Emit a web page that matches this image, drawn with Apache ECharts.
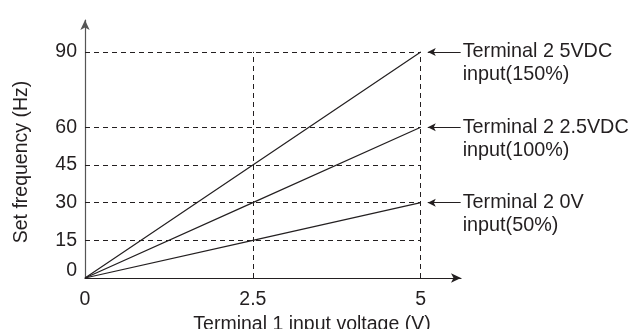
<!DOCTYPE html>
<html>
<head>
<meta charset="utf-8">
<script src="https://cdn.jsdelivr.net/npm/echarts@6/dist/echarts.min.js"></script>
<style>
  html, body { margin: 0; padding: 0; background: #fff; }
  #chart { width: 631px; height: 329px; }
</style>
</head>
<body>
<div id="chart"></div>
<script>
// 输入电压 (V) 与各曲线的设定频率 (Hz)
const voltages = [0, 2.5, 5];
const freq150 = [0, 45, 90];
const freq100 = [0, 30, 60];
const freq50 = [0, 15, 30];

// 刻度
const xTicks = [0, 2.5, 5];
const yTicks = [0, 15, 30, 45, 60, 90];

// 虚线参考线
const hGuides = [15, 30, 45, 60, 90];
const vGuides = [2.5, 5];

// 右侧标注
const annotTexts = [
    'Terminal 2 5VDC\ninput(150%)',
    'Terminal 2 2.5VDC\ninput(100%)',
    'Terminal 2 0V\ninput(50%)'
];

const ink = '#231f20';
const font = "'Liberation Sans', Arial, sans-serif";

const chart = echarts.init(document.getElementById('chart'));

function pairs(ys) {
    return voltages.map((v, i) => [v, ys[i]]);
}

const xEnd = voltages[voltages.length - 1];
const yEnd = Math.max(...freq150);

const guideLines = [];
hGuides.forEach(v => guideLines.push([{ coord: [0, v] }, { coord: [xEnd, v] }]));
vGuides.forEach(v => guideLines.push([{ coord: [v, 0] }, { coord: [v, yEnd] }]));

function annotation(ys, text) {
    const y = ys[ys.length - 1];
    return {
        silent: true,
        symbol: ['arrow', 'none'],
        symbolSize: [6, 8],
        lineStyle: { color: ink, width: 1, type: 'solid' },
        label: {
            show: true,
            position: 'end',
            distance: 2,
            // 首行留空，使第一行文字与箭头对齐
            formatter: ' \n' + text,
            color: ink,
            fontSize: 19.8,
            fontFamily: font,
            lineHeight: 23,
            align: 'left'
        },
        emphasis: { disabled: true },
        data: [[{ coord: [xEnd + 0.105, y] }, { coord: [xEnd + 0.595, y] }]]
    };
}

function lineSeries(name, ys, text) {
    return {
        name: name,
        type: 'line',
        clip: false,
        symbol: 'none',
        lineStyle: { color: ink, width: 1.2 },
        emphasis: { disabled: true },
        data: pairs(ys),
        markLine: annotation(ys, text)
    };
}

chart.setOption({
    animation: false,
    backgroundColor: '#fff',
    grid: { left: 85, right: 170, top: 20, bottom: 51, outerBoundsMode: 'none' },
    xAxis: {
        type: 'value',
        min: 0,
        max: 5.6,
        name: 'Terminal 1 input voltage (V)',
        nameLocation: 'middle',
        nameGap: 34,
        nameTextStyle: {
            color: ink, fontSize: 19.5, fontFamily: font,
            padding: [0, 0, 0, 78]
        },
        axisLine: {
            show: true,
            symbol: ['none', 'arrow'],
            symbolSize: [7, 10],
            lineStyle: { color: ink, width: 1.2 }
        },
        axisTick: { show: false },
        splitLine: { show: false },
        axisLabel: {
            customValues: xTicks,
            color: ink,
            fontSize: 19.5,
            fontFamily: font,
            margin: 12
        }
    },
    yAxis: {
        type: 'value',
        min: 0,
        max: 102.7,
        name: 'Set frequency (Hz)',
        nameLocation: 'middle',
        nameGap: 53,
        nameTextStyle: {
            color: ink, fontSize: 19.5, fontFamily: font,
            padding: [0, 26, 0, 0]
        },
        axisLine: {
            show: true,
            symbol: ['none', 'arrow'],
            symbolSize: [7, 10],
            lineStyle: { color: '#555', width: 1.2 }
        },
        axisTick: { show: false },
        splitLine: { show: false },
        axisLabel: {
            customValues: yTicks,
            color: ink,
            fontSize: 19.5,
            fontFamily: font,
            margin: 8,
            formatter: v => (v === 0 ? '{z|0}' : String(v)),
            rich: { z: { fontSize: 19.5, fontFamily: font, color: ink, padding: [0, 0, 14, 0] } }
        }
    },
    series: [
        {
            name: 'guides',
            type: 'line',
            clip: false,
            symbol: 'none',
            data: [],
            markLine: {
                silent: true,
                symbol: 'none',
                lineStyle: { color: ink, width: 1, type: [5, 4] },
                label: { show: false },
                emphasis: { disabled: true },
                data: guideLines
            }
        },
        lineSeries('150%', freq150, annotTexts[0]),
        lineSeries('100%', freq100, annotTexts[1]),
        lineSeries('50%', freq50, annotTexts[2])
    ]
});

window.addEventListener('resize', () => chart.resize());
</script>
</body>
</html>
